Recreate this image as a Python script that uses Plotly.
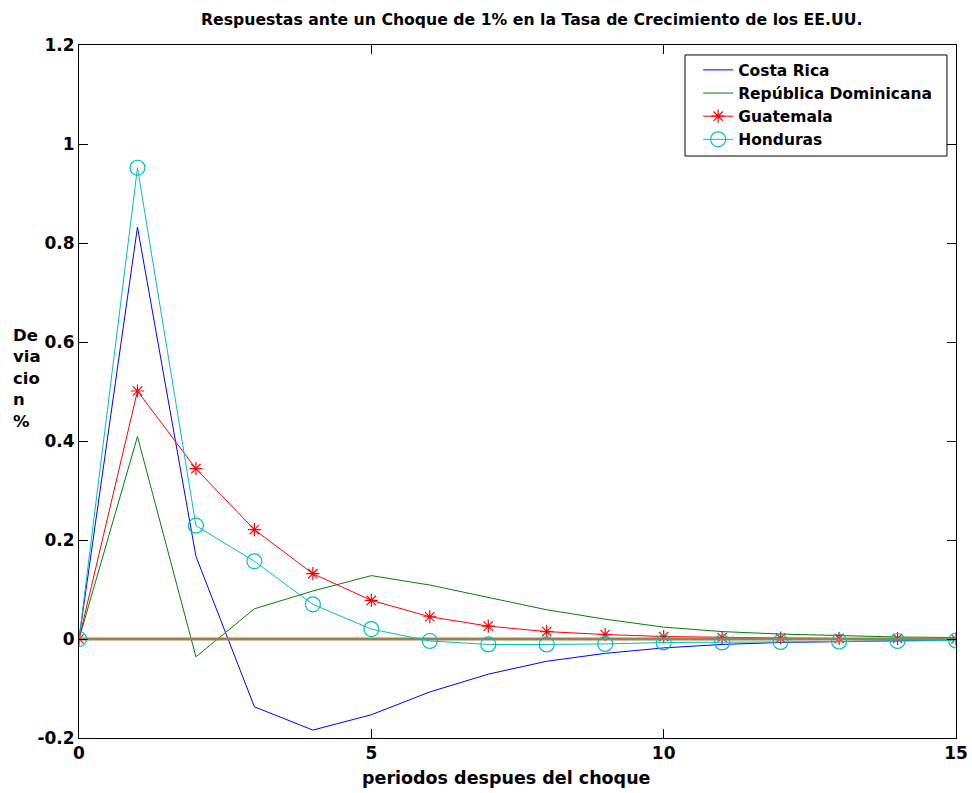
import plotly.graph_objects as go

# Impulse responses to a 1% shock in US growth rate
periods = list(range(16))

costa_rica = [0.0, 0.832, 0.167, -0.137, -0.184, -0.153, -0.107, -0.071, -0.045,
              -0.029, -0.018, -0.011, -0.007, -0.005, -0.003, -0.002]
rep_dominicana = [0.0, 0.409, -0.036, 0.061, 0.097, 0.128, 0.109, 0.084, 0.059,
                  0.040, 0.024, 0.015, 0.010, 0.007, 0.004, 0.003]
guatemala = [0.0, 0.501, 0.344, 0.221, 0.132, 0.078, 0.045, 0.026, 0.015,
             0.009, 0.005, 0.003, 0.002, 0.001, 0.001, 0.000]
honduras = [0.0, 0.952, 0.229, 0.157, 0.070, 0.020, -0.004, -0.011, -0.011,
            -0.010, -0.007, -0.007, -0.006, -0.005, -0.004, -0.003]
zero_line = [0.0] * len(periods)

x_ticks = [0, 5, 10, 15]
y_ticks = [-0.2, 0, 0.2, 0.4, 0.6, 0.8, 1, 1.2]
y_tick_text = ["-0.2", "0", "0.2", "0.4", "0.6", "0.8", "1", "1.2"]

FONT = "DejaVu Sans, Verdana, sans-serif"

fig = go.Figure()

fig.add_trace(go.Scatter(x=periods, y=costa_rica, mode="lines", name="Costa Rica",
                         line=dict(color="#0000FF", width=1)))
fig.add_trace(go.Scatter(x=periods, y=rep_dominicana, mode="lines", name="República Dominicana",
                         line=dict(color="#008000", width=1)))
fig.add_trace(go.Scatter(x=periods, y=guatemala, mode="lines+markers", name="Guatemala",
                         line=dict(color="#FF0000", width=1),
                         marker=dict(symbol="asterisk-open", size=11,
                                     line=dict(color="#FF0000", width=1.2))))
fig.add_trace(go.Scatter(x=periods, y=zero_line, mode="lines", showlegend=False,
                         hoverinfo="skip", line=dict(color="#A0804A", width=3)))
fig.add_trace(go.Scatter(x=periods, y=honduras, mode="lines+markers", name="Honduras",
                         line=dict(color="#00BFBF", width=1),
                         marker=dict(symbol="circle-open", size=15,
                                     line=dict(color="#00BFBF", width=1.2))))

axis_common = dict(showgrid=False, zeroline=False, showline=True, linecolor="black",
                   linewidth=1, mirror="ticks", ticks="inside", ticklen=9,
                   tickcolor="black", tickwidth=1, automargin=False,
                   tickfont=dict(family=FONT, size=17, color="black", weight="bold"))

fig.update_xaxes(range=[0, 15], tickvals=x_ticks, **axis_common)
fig.update_yaxes(range=[-0.2, 1.2], tickvals=y_ticks, ticktext=y_tick_text, **axis_common)

# x-axis label
fig.add_annotation(text="<b>periodos despues del choque</b>", xref="paper", yref="paper",
                   x=0.487, y=-0.058, xanchor="center", yanchor="middle", showarrow=False,
                   font=dict(family=FONT, size=17.5, color="black"))

# stacked y-axis label
fig.add_annotation(text="<b>De<br>via<br>cio<br>n<br>%</b>", xref="paper", yref="paper",
                   x=-0.077, y=0.519, xanchor="left", yanchor="middle", showarrow=False,
                   align="left", font=dict(family=FONT, size=16.5, color="black"))

# legend frame
fig.add_shape(type="rect", xref="paper", yref="paper",
              x0=0.691, x1=0.9897, y0=0.8398, y1=0.9856,
              line=dict(color="black", width=1), fillcolor="white", layer="above")

fig.update_layout(
    width=972, height=793,
    margin=dict(l=79, r=16, t=45, b=55),
    paper_bgcolor="white", plot_bgcolor="white",
    title=dict(text="<b>Respuestas ante un Choque de 1% en la Tasa de Crecimiento de los EE.UU.</b>",
               x=0.547, xanchor="center", y=0.976, yanchor="middle",
               font=dict(family=FONT, size=15.7, color="black")),
    legend=dict(x=0.706, y=0.988, xanchor="left", yanchor="top",
                bgcolor="rgba(0,0,0,0)", borderwidth=0,
                font=dict(family=FONT, size=15.5, color="black", weight="bold"),
                tracegroupgap=0, itemsizing="trace"),
    showlegend=True,
)

fig.write_html("out.html")
